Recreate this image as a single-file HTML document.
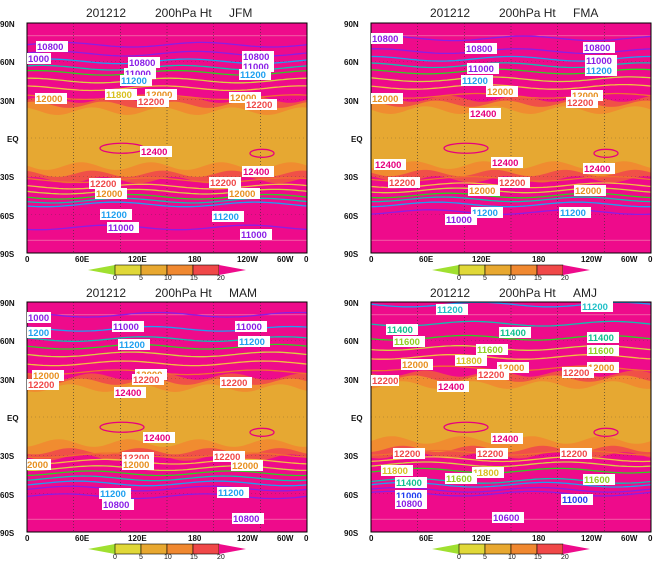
<!DOCTYPE html>
<html><head><meta charset="utf-8"><style>
body{margin:0;background:#fff;width:662px;height:567px;overflow:hidden}
svg{display:block;font-family:"Liberation Sans",sans-serif}
.t{font-size:12px;fill:#222}
.ax{font-size:8px;fill:#111;font-weight:bold}
.cl{font-size:9.5px;font-weight:bold}
</style></head><body>
<svg id="s" width="662" height="567" viewBox="0 0 662 567">
<g id="p1" transform="translate(27,23)"></g>
<g id="p2" transform="translate(371,23)"></g>
<g id="p3" transform="translate(27,302)"></g>
<g id="p4" transform="translate(371,302)"></g>

<g class="t">
<text x="86" y="17">201212</text><text x="155" y="17">200hPa Ht</text><text x="229" y="17">JFM</text>
<text x="430" y="17">201212</text><text x="499" y="17">200hPa Ht</text><text x="573" y="17">FMA</text>
<text x="86" y="297">201212</text><text x="155" y="297">200hPa Ht</text><text x="229" y="297">MAM</text>
<text x="430" y="297">201212</text><text x="499" y="297">200hPa Ht</text><text x="573" y="297">AMJ</text>
</g>

<g id="labs"></g>

<!-- static contour labels -->
<g class="cl" id="lbl">
<!-- P1 -->
<g transform="translate(27,23)">
<rect x="9" y="18" width="32" height="11" fill="#fff"/><text x="10" y="27" fill="#8a1ee6">10800</text>
<rect x="0" y="30" width="24" height="11" fill="#fff"/><text x="1" y="39" fill="#8a1ee6">1000</text>
<rect x="101" y="34" width="32" height="11" fill="#fff"/><text x="102" y="43" fill="#8a1ee6">10800</text>
<rect x="215" y="28" width="32" height="11" fill="#fff"/><text x="216" y="37" fill="#8a1ee6">10800</text>
<rect x="215" y="38" width="32" height="11" fill="#fff"/><text x="216" y="47" fill="#8a1ee6">11000</text>
<rect x="97" y="45" width="32" height="11" fill="#fff"/><text x="98" y="54" fill="#8a1ee6">11000</text>
<rect x="93" y="52" width="32" height="11" fill="#fff"/><text x="94" y="61" fill="#1ea0f0">11200</text>
<rect x="212" y="46" width="32" height="11" fill="#fff"/><text x="213" y="55" fill="#1ea0f0">11200</text>
<rect x="78" y="66" width="32" height="11" fill="#fff"/><text x="79" y="75" fill="#d8c020">11800</text>
<rect x="8" y="70" width="32" height="11" fill="#fff"/><text x="9" y="79" fill="#e89020">12000</text>
<rect x="118" y="66" width="32" height="11" fill="#fff"/><text x="119" y="75" fill="#e89020">12000</text>
<rect x="110" y="73" width="32" height="11" fill="#fff"/><text x="111" y="82" fill="#f04848">12200</text>
<rect x="202" y="69" width="32" height="11" fill="#fff"/><text x="203" y="78" fill="#e89020">12000</text>
<rect x="218" y="76" width="32" height="11" fill="#fff"/><text x="219" y="85" fill="#f04848">12200</text>
<rect x="113" y="123" width="32" height="11" fill="#fff"/><text x="114" y="132" fill="#e6007e">12400</text>
<rect x="215" y="143" width="32" height="11" fill="#fff"/><text x="216" y="152" fill="#e6007e">12400</text>
<rect x="62" y="155" width="32" height="11" fill="#fff"/><text x="63" y="164" fill="#f04848">12200</text>
<rect x="182" y="154" width="32" height="11" fill="#fff"/><text x="183" y="163" fill="#f04848">12200</text>
<rect x="68" y="165" width="32" height="11" fill="#fff"/><text x="69" y="174" fill="#e89020">12000</text>
<rect x="201" y="165" width="32" height="11" fill="#fff"/><text x="202" y="174" fill="#e89020">12000</text>
<rect x="73" y="186" width="32" height="11" fill="#fff"/><text x="74" y="195" fill="#1ea0f0">11200</text>
<rect x="185" y="188" width="32" height="11" fill="#fff"/><text x="186" y="197" fill="#1ea0f0">11200</text>
<rect x="80" y="199" width="32" height="11" fill="#fff"/><text x="81" y="208" fill="#8a1ee6">11000</text>
<rect x="213" y="206" width="32" height="11" fill="#fff"/><text x="214" y="215" fill="#8a1ee6">11000</text>
</g>
<!-- P2 -->
<g transform="translate(371,23)">
<rect x="0" y="10" width="32" height="11" fill="#fff"/><text x="1" y="19" fill="#8a1ee6">10800</text>
<rect x="94" y="20" width="32" height="11" fill="#fff"/><text x="95" y="29" fill="#8a1ee6">10800</text>
<rect x="212" y="19" width="32" height="11" fill="#fff"/><text x="213" y="28" fill="#8a1ee6">10800</text>
<rect x="96" y="40" width="32" height="11" fill="#fff"/><text x="97" y="49" fill="#8a1ee6">11000</text>
<rect x="214" y="32" width="32" height="11" fill="#fff"/><text x="215" y="41" fill="#8a1ee6">11000</text>
<rect x="214" y="42" width="32" height="11" fill="#fff"/><text x="215" y="51" fill="#1ea0f0">11200</text>
<rect x="90" y="52" width="32" height="11" fill="#fff"/><text x="91" y="61" fill="#1ea0f0">11200</text>
<rect x="0" y="70" width="32" height="11" fill="#fff"/><text x="1" y="79" fill="#e89020">12000</text>
<rect x="115" y="63" width="32" height="11" fill="#fff"/><text x="116" y="72" fill="#e89020">12000</text>
<rect x="200" y="67" width="32" height="11" fill="#fff"/><text x="201" y="76" fill="#e89020">12000</text>
<rect x="195" y="74" width="32" height="11" fill="#fff"/><text x="196" y="83" fill="#f04848">12200</text>
<rect x="98" y="85" width="32" height="11" fill="#fff"/><text x="99" y="94" fill="#e6007e">12400</text>
<rect x="3" y="136" width="32" height="11" fill="#fff"/><text x="4" y="145" fill="#e6007e">12400</text>
<rect x="120" y="134" width="32" height="11" fill="#fff"/><text x="121" y="143" fill="#e6007e">12400</text>
<rect x="212" y="140" width="32" height="11" fill="#fff"/><text x="213" y="149" fill="#e6007e">12400</text>
<rect x="17" y="154" width="32" height="11" fill="#fff"/><text x="18" y="163" fill="#f04848">12200</text>
<rect x="127" y="154" width="32" height="11" fill="#fff"/><text x="128" y="163" fill="#f04848">12200</text>
<rect x="97" y="162" width="32" height="11" fill="#fff"/><text x="98" y="171" fill="#e89020">12000</text>
<rect x="203" y="162" width="32" height="11" fill="#fff"/><text x="204" y="171" fill="#e89020">12000</text>
<rect x="100" y="184" width="32" height="11" fill="#fff"/><text x="101" y="193" fill="#1ea0f0">11200</text>
<rect x="188" y="184" width="32" height="11" fill="#fff"/><text x="189" y="193" fill="#1ea0f0">11200</text>
<rect x="74" y="191" width="32" height="11" fill="#fff"/><text x="75" y="200" fill="#8a1ee6">11000</text>
</g>
<!-- P3 -->
<g transform="translate(27,302)">
<rect x="0" y="10" width="24" height="11" fill="#fff"/><text x="1" y="19" fill="#8a1ee6">1000</text>
<rect x="85" y="19" width="32" height="11" fill="#fff"/><text x="86" y="28" fill="#8a1ee6">11000</text>
<rect x="208" y="19" width="32" height="11" fill="#fff"/><text x="209" y="28" fill="#8a1ee6">11000</text>
<rect x="0" y="25" width="24" height="11" fill="#fff"/><text x="1" y="34" fill="#1ea0f0">1200</text>
<rect x="91" y="37" width="32" height="11" fill="#fff"/><text x="92" y="46" fill="#1ea0f0">11200</text>
<rect x="211" y="34" width="32" height="11" fill="#fff"/><text x="212" y="43" fill="#1ea0f0">11200</text>
<rect x="5" y="68" width="32" height="11" fill="#fff"/><text x="6" y="77" fill="#e89020">12000</text>
<rect x="0" y="77" width="32" height="11" fill="#fff"/><text x="1" y="86" fill="#f04848">12200</text>
<rect x="108" y="67" width="32" height="11" fill="#fff"/><text x="109" y="76" fill="#e89020">12000</text>
<rect x="105" y="72" width="32" height="11" fill="#fff"/><text x="106" y="81" fill="#f04848">12200</text>
<rect x="193" y="75" width="32" height="11" fill="#fff"/><text x="194" y="84" fill="#f04848">12200</text>
<rect x="87" y="85" width="32" height="11" fill="#fff"/><text x="88" y="94" fill="#e6007e">12400</text>
<rect x="116" y="130" width="32" height="11" fill="#fff"/><text x="117" y="139" fill="#e6007e">12400</text>
<rect x="186" y="149" width="32" height="11" fill="#fff"/><text x="187" y="158" fill="#f04848">12200</text>
<rect x="95" y="150" width="32" height="11" fill="#fff"/><text x="96" y="159" fill="#f04848">12200</text>
<rect x="0" y="157" width="24" height="11" fill="#fff"/><text x="0" y="166" fill="#e89020">2000</text>
<rect x="95" y="157" width="32" height="11" fill="#fff"/><text x="96" y="166" fill="#e89020">12000</text>
<rect x="204" y="158" width="32" height="11" fill="#fff"/><text x="205" y="167" fill="#e89020">12000</text>
<rect x="72" y="186" width="32" height="11" fill="#fff"/><text x="73" y="195" fill="#1ea0f0">11200</text>
<rect x="190" y="185" width="32" height="11" fill="#fff"/><text x="191" y="194" fill="#1ea0f0">11200</text>
<rect x="75" y="197" width="32" height="11" fill="#fff"/><text x="76" y="206" fill="#8a1ee6">10800</text>
<rect x="205" y="211" width="32" height="11" fill="#fff"/><text x="206" y="220" fill="#8a1ee6">10800</text>
</g>
<!-- P4 -->
<g transform="translate(371,302)">
<rect x="65" y="2" width="32" height="11" fill="#fff"/><text x="66" y="11" fill="#20c0c8">11200</text>
<rect x="210" y="-1" width="32" height="11" fill="#fff"/><text x="211" y="8" fill="#20c0c8">11200</text>
<rect x="15" y="22" width="32" height="11" fill="#fff"/><text x="16" y="31" fill="#10c090">11400</text>
<rect x="128" y="25" width="32" height="11" fill="#fff"/><text x="129" y="34" fill="#10c090">11400</text>
<rect x="216" y="30" width="32" height="11" fill="#fff"/><text x="217" y="39" fill="#10c090">11400</text>
<rect x="22" y="34" width="32" height="11" fill="#fff"/><text x="23" y="43" fill="#90d020">11600</text>
<rect x="105" y="42" width="32" height="11" fill="#fff"/><text x="106" y="51" fill="#90d020">11600</text>
<rect x="216" y="43" width="32" height="11" fill="#fff"/><text x="217" y="52" fill="#90d020">11600</text>
<rect x="84" y="53" width="32" height="11" fill="#fff"/><text x="85" y="62" fill="#d8c020">11800</text>
<rect x="30" y="57" width="32" height="11" fill="#fff"/><text x="31" y="66" fill="#e89020">12000</text>
<rect x="126" y="60" width="32" height="11" fill="#fff"/><text x="127" y="69" fill="#e89020">12000</text>
<rect x="216" y="60" width="32" height="11" fill="#fff"/><text x="217" y="69" fill="#e89020">12000</text>
<rect x="106" y="67" width="32" height="11" fill="#fff"/><text x="107" y="76" fill="#f04848">12200</text>
<rect x="191" y="65" width="32" height="11" fill="#fff"/><text x="192" y="74" fill="#f04848">12200</text>
<rect x="0" y="73" width="28" height="11" fill="#fff"/><text x="1" y="82" fill="#f04848">12200</text>
<rect x="66" y="79" width="32" height="11" fill="#fff"/><text x="67" y="88" fill="#e6007e">12400</text>
<rect x="120" y="131" width="32" height="11" fill="#fff"/><text x="121" y="140" fill="#e6007e">12400</text>
<rect x="22" y="146" width="32" height="11" fill="#fff"/><text x="23" y="155" fill="#f04848">12200</text>
<rect x="105" y="146" width="32" height="11" fill="#fff"/><text x="106" y="155" fill="#f04848">12200</text>
<rect x="189" y="146" width="32" height="11" fill="#fff"/><text x="190" y="155" fill="#f04848">12200</text>
<rect x="10" y="163" width="32" height="11" fill="#fff"/><text x="11" y="172" fill="#d8c020">11800</text>
<rect x="101" y="165" width="32" height="11" fill="#fff"/><text x="102" y="174" fill="#d8c020">11800</text>
<rect x="74" y="171" width="32" height="11" fill="#fff"/><text x="75" y="180" fill="#90d020">11600</text>
<rect x="212" y="172" width="32" height="11" fill="#fff"/><text x="213" y="181" fill="#90d020">11600</text>
<rect x="24" y="175" width="32" height="11" fill="#fff"/><text x="25" y="184" fill="#10c090">11400</text>
<rect x="24" y="188" width="32" height="11" fill="#fff"/><text x="25" y="197" fill="#1e3cf0">11000</text>
<rect x="190" y="192" width="32" height="11" fill="#fff"/><text x="191" y="201" fill="#1e3cf0">11000</text>
<rect x="24" y="196" width="32" height="11" fill="#fff"/><text x="25" y="205" fill="#8a1ee6">10800</text>
<rect x="121" y="210" width="32" height="11" fill="#fff"/><text x="122" y="219" fill="#8a1ee6">10600</text>
</g>
</g>

<!-- axis labels -->
<g class="ax" id="axes">
<g transform="translate(27,23)">
<text x="-27" y="4">90N</text><text x="-27" y="42">60N</text><text x="-27" y="81">30N</text><text x="-20" y="119">EQ</text><text x="-27" y="157">30S</text><text x="-27" y="196">60S</text><text x="-27" y="234">90S</text>
<text x="-2" y="239">0</text><text x="48" y="239">60E</text><text x="101" y="239">120E</text><text x="161" y="239">180</text><text x="210" y="239">120W</text><text x="250" y="239">60W</text><text x="277" y="239">0</text>
</g>
<g transform="translate(371,23)">
<text x="-27" y="4">90N</text><text x="-27" y="42">60N</text><text x="-27" y="81">30N</text><text x="-20" y="119">EQ</text><text x="-27" y="157">30S</text><text x="-27" y="196">60S</text><text x="-27" y="234">90S</text>
<text x="-2" y="239">0</text><text x="48" y="239">60E</text><text x="101" y="239">120E</text><text x="161" y="239">180</text><text x="210" y="239">120W</text><text x="250" y="239">60W</text><text x="277" y="239">0</text>
</g>
<g transform="translate(27,302)">
<text x="-27" y="4">90N</text><text x="-27" y="42">60N</text><text x="-27" y="81">30N</text><text x="-20" y="119">EQ</text><text x="-27" y="157">30S</text><text x="-27" y="196">60S</text><text x="-27" y="234">90S</text>
<text x="-2" y="239">0</text><text x="48" y="239">60E</text><text x="101" y="239">120E</text><text x="161" y="239">180</text><text x="210" y="239">120W</text><text x="250" y="239">60W</text><text x="277" y="239">0</text>
</g>
<g transform="translate(371,302)">
<text x="-27" y="4">90N</text><text x="-27" y="42">60N</text><text x="-27" y="81">30N</text><text x="-20" y="119">EQ</text><text x="-27" y="157">30S</text><text x="-27" y="196">60S</text><text x="-27" y="234">90S</text>
<text x="-2" y="239">0</text><text x="48" y="239">60E</text><text x="101" y="239">120E</text><text x="161" y="239">180</text><text x="210" y="239">120W</text><text x="250" y="239">60W</text><text x="277" y="239">0</text>
</g>
</g>
<g class="ax" style="font-size:7px;font-weight:normal">
<g transform="translate(27,23)"><text x="86" y="257">0</text><text x="112" y="257">5</text><text x="137" y="257">10</text><text x="163" y="257">15</text><text x="190" y="257">20</text></g>
<g transform="translate(371,23)"><text x="86" y="257">0</text><text x="112" y="257">5</text><text x="137" y="257">10</text><text x="163" y="257">15</text><text x="190" y="257">20</text></g>
<g transform="translate(27,302)"><text x="86" y="257">0</text><text x="112" y="257">5</text><text x="137" y="257">10</text><text x="163" y="257">15</text><text x="190" y="257">20</text></g>
<g transform="translate(371,302)"><text x="86" y="257">0</text><text x="112" y="257">5</text><text x="137" y="257">10</text><text x="163" y="257">15</text><text x="190" y="257">20</text></g>
</g>
</svg>
<script>
var NS="http://www.w3.org/2000/svg",W=280,H=230;
function Y(l){return (90-l)*H/180;}
function el(p,t,a){var e=document.createElementNS(NS,t);for(var k in a)e.setAttribute(k,a[k]);p.insertBefore(e,p.firstChild&&p._after?p._after.nextSibling:null);return e;}
function add(p,t,a){var e=document.createElementNS(NS,t);for(var k in a)e.setAttribute(k,a[k]);p.appendChild(e);return e;}
function line(lat,amp,ph,k){var d="";for(var x=0;x<=W;x+=4){var y=Y(lat+amp*Math.sin(x/W*2*Math.PI*k+ph));d+=(x?"L":"M")+x+","+y.toFixed(1);}return d;}
function band(n,s,amp,ph){var d="";for(var x=0;x<=W;x+=4){d+=(x?"L":"M")+x+","+Y(n+amp*Math.sin(x/W*Math.PI*8+ph)).toFixed(1);}for(var x=W;x>=0;x-=4){d+="L"+x+","+Y(s+amp*Math.sin(x/W*Math.PI*8+ph+1)).toFixed(1);}return d+"Z";}
var C={10600:"#8a1ee6",10800:"#8a1ee6",11000:"#8a1ee6",11200:"#1ea0f0",11400:"#10c0b0",11600:"#30d020",11800:"#d8d040",12000:"#f0c040",12200:"#f07030"};
var cfg=[
 {sh:0,n:[[10800,73],[11000,66],[11200,60],[11400,55],[11600,51],[11800,45],[12000,39],[12200,32]],s:[[12200,-33],[12000,-38],[11800,-42],[11600,-46],[11400,-49],[11200,-52],[11000,-70]]},
 {sh:2,n:[[10800,78],[11000,68],[11200,62],[11400,57],[11600,52],[11800,46],[12000,40],[12200,33]],s:[[12200,-32],[12000,-37],[11800,-41],[11600,-45],[11400,-48],[11200,-52],[11000,-58]]},
 {sh:4,n:[[11000,80],[11200,69],[11400,61],[11600,55],[11800,49],[12000,42],[12200,35]],s:[[12200,-30],[12000,-35],[11800,-40],[11600,-44],[11400,-48],[11200,-52],[11000,-56],[10800,-62]]},
 {sh:10,n:[[11200,88],[11400,73],[11600,62],[11800,54],[12000,47],[12200,38]],s:[[12200,-28],[12000,-33],[11800,-37],[11600,-42],[11400,-50],[11200,-53],[11000,-57],[10800,-60]]}
];
cfg.forEach(function(c,i){
 var g=document.getElementById("p"+(i+1));
 add(g,"rect",{x:0,y:0,width:W,height:H,fill:"#ee0b8b"});
 var s=c.sh;
 add(g,"path",{d:band(30+s*0.4,-33+s*0.3,2.5,i),fill:"#f05048"});
 add(g,"path",{d:band(26+s*0.4,-28+s*0.3,2.5,i+1),fill:"#f08c30"});
 add(g,"path",{d:band(21+s*0.4,-22+s*0.4,3,i+2),fill:"#e6a832"});
 [80,-80].forEach(function(l){add(g,"line",{x1:0,x2:W,y1:Y(l),y2:Y(l),stroke:"#f48cb4","stroke-width":0.6});});
 [1,2,3,4,5].forEach(function(k){add(g,"line",{x1:k*W/6,x2:k*W/6,y1:0,y2:H,stroke:"#333","stroke-width":0.6,"stroke-dasharray":"1,2"});});
 [60,30,0,-30,-60].forEach(function(l){add(g,"line",{x1:0,x2:W,y1:Y(l),y2:Y(l),stroke:"#333","stroke-width":0.5,"stroke-dasharray":"1,3","opacity":0.5});});
 c.n.concat(c.s).forEach(function(v,j){add(g,"path",{d:line(v[1],1.8,j*0.3+i,2),fill:"none",stroke:C[v[0]]||"#888","stroke-width":1.3});});
 // 12400 loops
 add(g,"ellipse",{cx:95,cy:Y(-8),rx:22,ry:5,fill:"none",stroke:"#e6007e","stroke-width":1.3});
 add(g,"ellipse",{cx:235,cy:Y(-12),rx:12,ry:4,fill:"none",stroke:"#e6007e","stroke-width":1.3});
 add(g,"rect",{x:0,y:0,width:W,height:H,fill:"none",stroke:"#000","stroke-width":1});
 // colorbar
 var cb=add(g,"g",{transform:"translate(0,242)"});
 add(cb,"polygon",{points:"61,5 88,0 88,10",fill:"#a0e030"});
 [["#e0d838",88],["#e8a830",114],["#f08830",140],["#f04848",166]].forEach(function(q){add(cb,"rect",{x:q[1],y:0,width:26,height:10,fill:q[0],stroke:"#000","stroke-width":0.6});});
 add(cb,"polygon",{points:"192,0 219,5 192,10",fill:"#ee0b8b"});
});
</script>
</body></html>
